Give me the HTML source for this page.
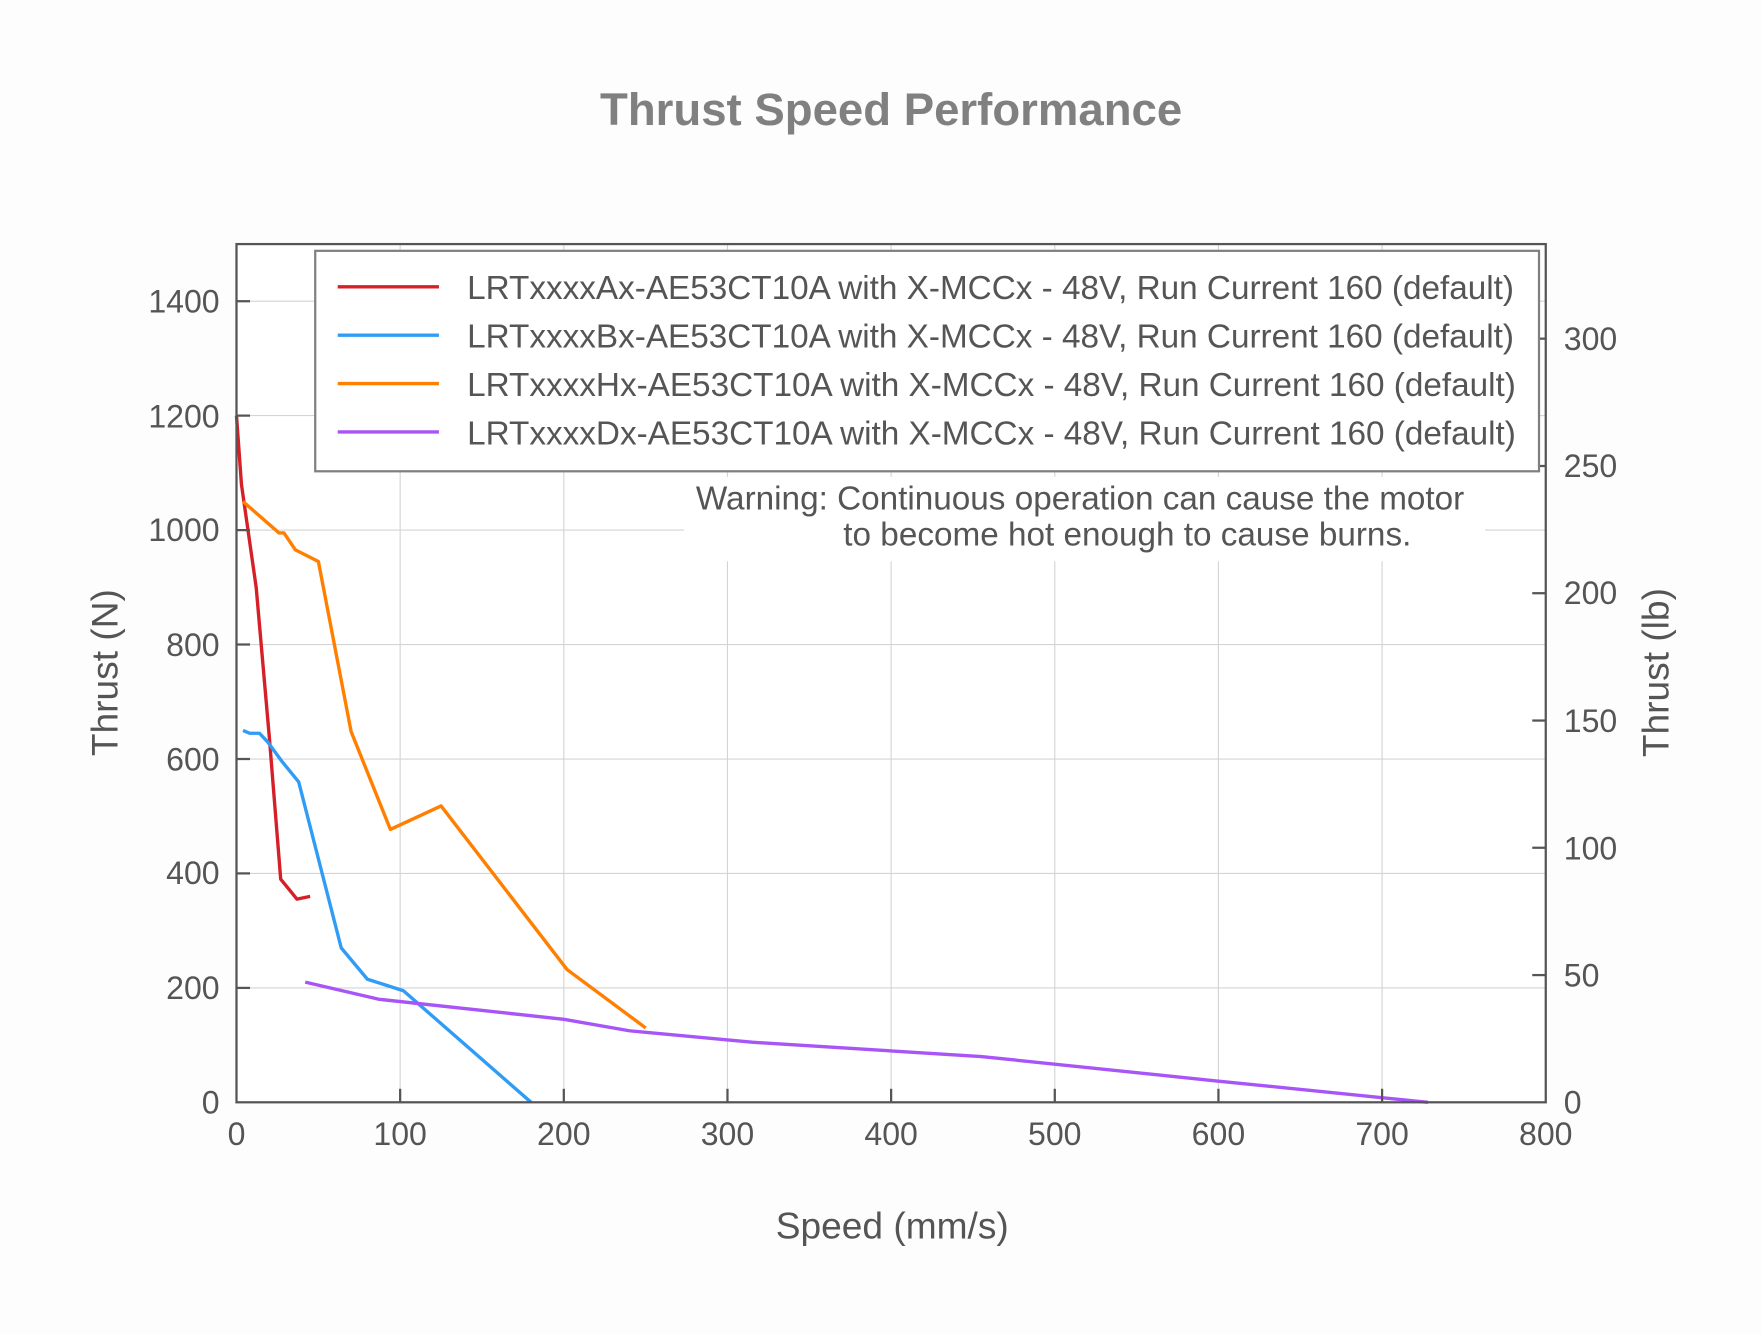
<!DOCTYPE html>
<html><head><meta charset="utf-8"><style>html,body{margin:0;padding:0;background:#fdfdfd}svg{display:block}</style></head>
<body>
<svg width="1762" height="1334" viewBox="0 0 1566 1186" xmlns="http://www.w3.org/2000/svg" font-family="Liberation Sans, Arial, sans-serif">
<rect width="1566" height="1186" fill="#fdfdfd"/>
<text x="792" y="111" text-anchor="middle" font-size="40.5" font-weight="bold" fill="#808080">Thrust Speed Performance</text>
<rect x="210" y="217" width="1164" height="763" fill="#fff"/>
<g stroke="#d4d4d4" stroke-width="1">
<line x1="355.5" y1="217" x2="355.5" y2="980"/><line x1="501" y1="217" x2="501" y2="980"/><line x1="646.5" y1="217" x2="646.5" y2="980"/><line x1="792" y1="217" x2="792" y2="980"/><line x1="937.5" y1="217" x2="937.5" y2="980"/><line x1="1083" y1="217" x2="1083" y2="980"/><line x1="1228.5" y1="217" x2="1228.5" y2="980"/>
<line x1="210" y1="878.3" x2="1374" y2="878.3"/><line x1="210" y1="776.5" x2="1374" y2="776.5"/><line x1="210" y1="674.8" x2="1374" y2="674.8"/><line x1="210" y1="573" x2="1374" y2="573"/><line x1="210" y1="471.3" x2="1374" y2="471.3"/><line x1="210" y1="369.5" x2="1374" y2="369.5"/><line x1="210" y1="267.8" x2="1374" y2="267.8"/>
</g>
<rect x="608" y="424" width="712" height="75" fill="#fff"/>
<g fill="none" stroke-width="3" stroke-linejoin="round">
<polyline stroke="#d62027" points="210,369.6 214.4,430.6 227.5,522.2 239.1,654.4 249.3,781.6 263.8,799.4 275.5,796.9"/>
<polyline stroke="#2f9cf5" points="215.8,649.4 221.6,651.9 230.4,651.9 237.6,659.5 250.7,677.3 265.3,695.2 303.1,842.7 326.4,870.6 358.4,880.8 471.9,980"/>
<polyline stroke="#ff7f00" points="215.8,445.9 247.8,473.8 252.2,473.8 262.4,488.9 282.8,499.2 311.9,650.4 346.8,737.4 391.9,716.5 503.9,862 573.8,913.9"/>
<polyline stroke="#a855f7" points="271.1,873.2 336.6,888.4 501,906.2 559.2,916.4 668.3,926.6 872,939.3 1083,961.2 1269.2,980"/>
</g>
<rect x="210" y="217" width="1164" height="763" fill="none" stroke="#555" stroke-width="2"/>
<g stroke="#555" stroke-width="2">
<line x1="355.5" y1="980" x2="355.5" y2="968"/><line x1="501" y1="980" x2="501" y2="968"/><line x1="646.5" y1="980" x2="646.5" y2="968"/><line x1="792" y1="980" x2="792" y2="968"/><line x1="937.5" y1="980" x2="937.5" y2="968"/><line x1="1083" y1="980" x2="1083" y2="968"/><line x1="1228.5" y1="980" x2="1228.5" y2="968"/>
<line x1="210" y1="878.3" x2="222" y2="878.3"/><line x1="210" y1="776.5" x2="222" y2="776.5"/><line x1="210" y1="674.8" x2="222" y2="674.8"/><line x1="210" y1="573" x2="222" y2="573"/><line x1="210" y1="471.3" x2="222" y2="471.3"/><line x1="210" y1="369.5" x2="222" y2="369.5"/><line x1="210" y1="267.8" x2="222" y2="267.8"/>
<line x1="1374" y1="866.9" x2="1362" y2="866.9"/><line x1="1374" y1="753.7" x2="1362" y2="753.7"/><line x1="1374" y1="640.6" x2="1362" y2="640.6"/><line x1="1374" y1="527.4" x2="1362" y2="527.4"/><line x1="1374" y1="414.3" x2="1362" y2="414.3"/><line x1="1374" y1="301.1" x2="1362" y2="301.1"/>
</g>
<g font-size="28.5" fill="#555" text-anchor="middle">
<text x="210" y="1018">0</text><text x="355.5" y="1018">100</text><text x="501" y="1018">200</text><text x="646.5" y="1018">300</text><text x="792" y="1018">400</text><text x="937.5" y="1018">500</text><text x="1083" y="1018">600</text><text x="1228.5" y="1018">700</text><text x="1374" y="1018">800</text>
</g>
<g font-size="28.5" fill="#555" text-anchor="end">
<text x="195" y="990">0</text><text x="195" y="888">200</text><text x="195" y="786">400</text><text x="195" y="685">600</text><text x="195" y="583">800</text><text x="195" y="481">1000</text><text x="195" y="380">1200</text><text x="195" y="278">1400</text>
</g>
<g font-size="28.5" fill="#555" text-anchor="start">
<text x="1390" y="990">0</text><text x="1390" y="877">50</text><text x="1390" y="764">100</text><text x="1390" y="651">150</text><text x="1390" y="537">200</text><text x="1390" y="424">250</text><text x="1390" y="311">300</text>
</g>
<text x="793" y="1101" text-anchor="middle" font-size="33" fill="#555">Speed (mm/s)</text>
<text transform="translate(104,598) rotate(-90)" text-anchor="middle" font-size="33" fill="#555">Thrust (N)</text>
<text transform="translate(1483,598) rotate(-90)" text-anchor="middle" font-size="33" fill="#555">Thrust (lb)</text>
<rect x="280" y="223" width="1088" height="196" fill="#fff" stroke="#808080" stroke-width="2"/>
<g stroke-width="3">
<line x1="300" y1="255" x2="390" y2="255" stroke="#d62027"/>
<line x1="300" y1="298" x2="390" y2="298" stroke="#2f9cf5"/>
<line x1="300" y1="341" x2="390" y2="341" stroke="#ff7f00"/>
<line x1="300" y1="384" x2="390" y2="384" stroke="#a855f7"/>
</g>
<g font-size="29.6" fill="#555">
<text x="415" y="266">LRTxxxxAx-AE53CT10A with X-MCCx - 48V, Run Current 160 (default)</text>
<text x="415" y="309">LRTxxxxBx-AE53CT10A with X-MCCx - 48V, Run Current 160 (default)</text>
<text x="415" y="352">LRTxxxxHx-AE53CT10A with X-MCCx - 48V, Run Current 160 (default)</text>
<text x="415" y="395">LRTxxxxDx-AE53CT10A with X-MCCx - 48V, Run Current 160 (default)</text>
</g>
<g font-size="29.6" fill="#555" text-anchor="middle">
<text x="960" y="453">Warning: Continuous operation can cause the motor</text>
<text x="1002" y="485">to become hot enough to cause burns.</text>
</g>
</svg>
</body></html>
